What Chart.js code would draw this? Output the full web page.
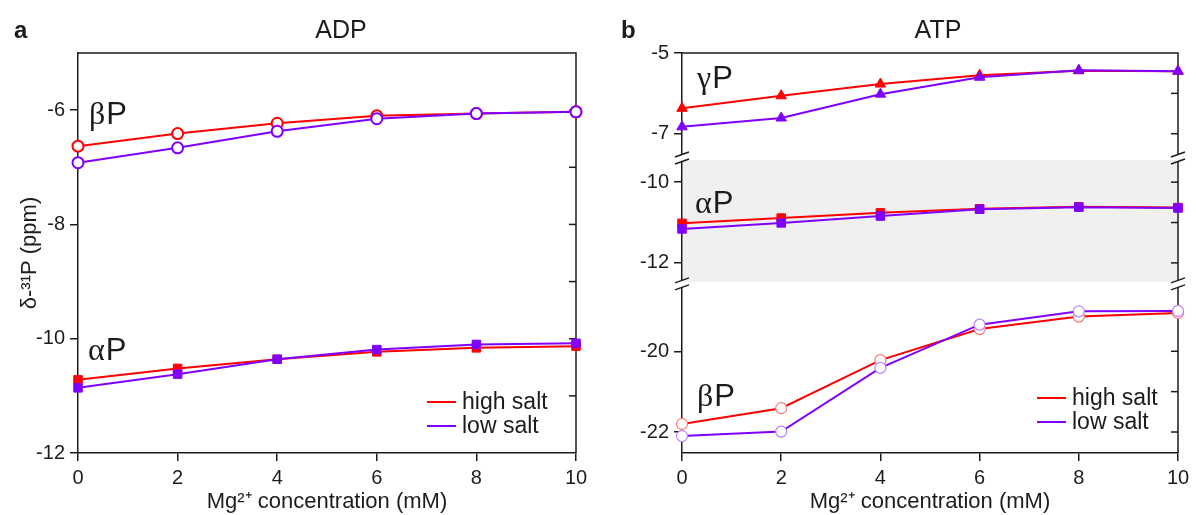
<!DOCTYPE html>
<html>
<head>
<meta charset="utf-8">
<script src="https://cdn.jsdelivr.net/npm/chart.js@4.4.0/dist/chart.umd.min.js"></script>
<style>
    html, body { margin: 0; padding: 0; background: #fff; }
    #wrap { position: relative; width: 1196px; height: 515px; overflow: hidden; }
    canvas { position: absolute; top: 0; }
    #adpChart { left: 0; }
    #atpChart { left: 600px; }
</style>
</head>
<body>
<div id="wrap">
    <canvas id="adpChart" width="600" height="515"></canvas>
    <canvas id="atpChart" width="596" height="515"></canvas>
</div>
<script>
// Mg2+ concentration (mM)
const mgConc = [0, 2, 4, 6, 8, 10];
const xTicks = [0, 2, 4, 6, 8, 10];

// a: ADP shifts (ppm)
const adpBetaHigh = [-6.63, -6.41, -6.23, -6.10, -6.06, -6.03];
const adpBetaLow = [-6.92, -6.66, -6.37, -6.15, -6.06, -6.03];
const adpAlphaHigh = [-10.72, -10.52, -10.36, -10.23, -10.16, -10.13];
const adpAlphaLow = [-10.86, -10.62, -10.36, -10.19, -10.10, -10.08];
const adpTicks = [-6, -8, -10, -12];
const adpMinor = [-6, -7, -8, -9, -10, -11];

// b: ATP shifts (ppm), broken axis in three pieces
const atpGammaHigh = [-6.37, -6.06, -5.77, -5.55, -5.44, -5.45];
const atpGammaLow = [-6.83, -6.61, -6.02, -5.60, -5.43, -5.45];
const atpAlphaHigh = [-11.02, -10.89, -10.76, -10.66, -10.61, -10.63];
const atpAlphaLow = [-11.16, -11.01, -10.84, -10.67, -10.62, -10.64];
const atpBetaHigh = [-21.80, -21.41, -20.22, -19.45, -19.14, -19.05];
const atpBetaLow = [-22.10, -21.99, -20.41, -19.34, -19.01, -19.00];
const atpTopTicks = [-5, -7];
const atpMidTicks = [-10, -12];
const atpBotTicks = [-20, -22];
const atpTopMinor = [-6, -7];
const atpMidMinor = [-10, -11, -12];
const atpBotMinor = [-19, -20, -21, -22];

const seriesNames = ["high salt", "low salt"];

const RED = "#ff0000";
const PURPLE = "#8000ff";
const RED_LIGHT = "#ff7a7a";
const PURPLE_LIGHT = "#b784ff";
const INK = "#1c1c1c";
const FONT = "'Liberation Sans', Arial, sans-serif";
const GREEK = "'Liberation Serif', 'DejaVu Serif', serif";

function toPoints(values) {
    return mgConc.map(function (x, i) {
        return { x: x, y: values[i] };
    });
}

// low salt (purple) is drawn over high salt (red)
function series(label, values, color, shape, extra) {
    return Object.assign({
        label: label,
        data: toPoints(values),
        borderColor: color,
        backgroundColor: color,
        borderWidth: 2,
        pointStyle: shape,
        pointRadius: 5,
        pointBackgroundColor: color,
        pointBorderColor: color,
        pointBorderWidth: 1,
        tension: 0,
        clip: false,
        order: label == seriesNames[0] ? 1 : 0,
    }, extra || {});
}

function openCircle(label, values, color, edge, yAxisID, width) {
    return series(label, values, color, "circle", {
        yAxisID: yAxisID,
        pointRadius: 5.5,
        pointBackgroundColor: "#ffffff",
        pointBorderColor: edge,
        pointBorderWidth: width,
    });
}

const axisGrid = {
    drawOnChartArea: false,
    drawTicks: true,
    tickLength: 8,
    color: INK,
    lineWidth: 1.5,
};
const axisBorder = { display: true, color: INK, width: 1.5 };
const tickFont = { family: FONT, size: 20 };

function xScale() {
    return {
        type: "linear",
        min: 0,
        max: 10,
        afterFit: function (s) { s.height = 62; },
        afterBuildTicks: function (s) {
            s.ticks = xTicks.map(function (v) { return { value: v }; });
        },
        grid: axisGrid,
        border: axisBorder,
        ticks: { color: INK, font: tickFont, padding: 5, maxRotation: 0 },
        title: {
            display: true,
            text: "Mg²⁺ concentration (mM)",
            color: INK,
            font: { family: FONT, size: 22 },
            padding: { top: 0, bottom: 0 },
        },
    };
}

function yScale(min, max, labels, width, extra) {
    return Object.assign({
        type: "linear",
        axis: "y",
        position: "left",
        min: min,
        max: max,
        afterFit: function (s) { s.width = width; },
        afterBuildTicks: function (s) {
            s.ticks = labels.map(function (v) { return { value: v }; });
        },
        grid: axisGrid,
        border: axisBorder,
        ticks: { color: INK, font: tickFont, padding: 5 },
    }, extra || {});
}

function line(ctx, x1, y1, x2, y2) {
    ctx.beginPath();
    ctx.moveTo(x1, y1);
    ctx.lineTo(x2, y2);
    ctx.stroke();
}

function greekLabel(ctx, greek, x, y) {
    ctx.fillStyle = INK;
    ctx.textBaseline = "alphabetic";
    ctx.textAlign = "left";
    ctx.font = "32px " + GREEK;
    ctx.fillText(greek, x, y);
    const w = ctx.measureText(greek).width;
    ctx.font = "31px " + FONT;
    ctx.fillText("P", x + w + 1, y);
}

// frame, inward ticks, broken axis, labels and legend
function decorPlugin(cfg) {
    return {
        id: "decor",
        beforeDatasetsDraw: function (chart) {
            const ctx = chart.ctx;
            const a = chart.chartArea;
            ctx.save();
            if (cfg.band) {
                const s = chart.scales[cfg.band];
                ctx.fillStyle = "#f0f0f0";
                ctx.fillRect(a.left + 1, s.top + 2, a.right - a.left - 2, s.bottom - s.top - 4);
            }
            ctx.strokeStyle = INK;
            ctx.lineWidth = 1.5;
            ctx.beginPath();
            ctx.moveTo(a.left, a.top);
            ctx.lineTo(a.right, a.top);
            ctx.lineTo(a.right, a.bottom);
            ctx.stroke();
            cfg.minor.forEach(function (m) {
                const s = chart.scales[m[0]];
                m[1].forEach(function (v) {
                    const y = s.getPixelForValue(v);
                    line(ctx, a.right - 7, y, a.right, y);
                });
            });
            (cfg.breaks || []).forEach(function (id) {
                const y = chart.scales[id].bottom;
                [a.left, a.right].forEach(function (x) {
                    ctx.fillStyle = "#ffffff";
                    ctx.fillRect(x - 2, y - 3, 4, 6);
                    ctx.lineWidth = 1.5;
                    line(ctx, x - 7, y - 1, x + 7, y - 6);
                    line(ctx, x - 7, y + 6, x + 7, y + 1);
                });
            });
            ctx.restore();
        },
        afterDraw: function (chart) {
            const ctx = chart.ctx;
            ctx.save();
            // panel letter and title
            ctx.fillStyle = INK;
            ctx.textBaseline = "middle";
            ctx.textAlign = "left";
            ctx.font = "bold 24px " + FONT;
            ctx.fillText(cfg.letter, cfg.letterX, 31);
            ctx.textAlign = "center";
            ctx.font = "25px " + FONT;
            ctx.fillText(cfg.title, cfg.titleX, 31);
            cfg.greek.forEach(function (g) {
                greekLabel(ctx, g[0], g[1], g[2]);
            });
            // legend
            const lg = cfg.legend;
            [RED, PURPLE].forEach(function (c, i) {
                const y = lg.y + i * 24;
                ctx.strokeStyle = c;
                ctx.lineWidth = 2;
                line(ctx, lg.x, y, lg.x + 29, y);
                ctx.fillStyle = INK;
                ctx.textAlign = "left";
                ctx.textBaseline = "middle";
                ctx.font = "23px " + FONT;
                ctx.fillText(seriesNames[i], lg.x + 35, y + 1);
            });
            ctx.restore();
        },
    };
}

const baseOptions = {
    responsive: false,
    animation: false,
    events: [],
    plugins: { legend: { display: false }, tooltip: { enabled: false } },
};

// ---- a: ADP ----
const adpChart = new Chart(document.getElementById("adpChart"), {
    type: "line",
    data: {
        datasets: [
            openCircle(seriesNames[0], adpBetaHigh, RED, RED, "y", 2),
            openCircle(seriesNames[1], adpBetaLow, PURPLE, PURPLE, "y", 2),
            series(seriesNames[0], adpAlphaHigh, RED, "rect", { pointRadius: 6 }),
            series(seriesNames[1], adpAlphaLow, PURPLE, "rect", { pointRadius: 6 }),
        ],
    },
    options: Object.assign({}, baseOptions, {
        layout: { padding: { top: 53, right: 24, bottom: 0, left: 0 } },
        scales: {
            x: xScale(),
            y: yScale(-12, -5, adpTicks, 78, {
                title: {
                    display: true,
                    text: "δ-³¹P (ppm)",
                    color: INK,
                    font: { family: FONT, size: 22 },
                    padding: { top: 17, bottom: 0 },
                },
            }),
        },
    }),
    plugins: [decorPlugin({
        letter: "a", letterX: 14, title: "ADP", titleX: 341,
        minor: [["y", adpMinor]],
        greek: [["β", 89, 124], ["α", 88, 360]],
        legend: { x: 427, y: 402 },
    })],
});

// ---- b: ATP (three stacked y pieces, later ones sit higher) ----
const atpChart = new Chart(document.getElementById("atpChart"), {
    type: "line",
    data: {
        datasets: [
            series(seriesNames[0], atpGammaHigh, RED, "triangle", { yAxisID: "yTop", pointRadius: 6 }),
            series(seriesNames[1], atpGammaLow, PURPLE, "triangle", { yAxisID: "yTop", pointRadius: 6 }),
            series(seriesNames[0], atpAlphaHigh, RED, "rect", { yAxisID: "yMid", pointRadius: 6 }),
            series(seriesNames[1], atpAlphaLow, PURPLE, "rect", { yAxisID: "yMid", pointRadius: 6 }),
            openCircle(seriesNames[0], atpBetaHigh, RED, RED_LIGHT, "yBot", 1.2),
            openCircle(seriesNames[1], atpBetaLow, PURPLE, PURPLE_LIGHT, "yBot", 1.2),
        ],
    },
    options: Object.assign({}, baseOptions, {
        layout: { padding: { top: 53, right: 18, bottom: 0, left: 0 } },
        scales: {
            x: xScale(),
            yBot: yScale(-22.52, -18.33, atpBotTicks, 82, { stack: "atp", stackWeight: 4.19 }),
            yMid: yScale(-12.52, -9.40, atpMidTicks, 82, { stack: "atp", stackWeight: 3.12 }),
            yTop: yScale(-7.6, -5, atpTopTicks, 82, { stack: "atp", stackWeight: 2.6 }),
        },
    }),
    plugins: [decorPlugin({
        letter: "b", letterX: 21, title: "ATP", titleX: 338,
        band: "yMid",
        breaks: ["yTop", "yMid"],
        minor: [["yTop", atpTopMinor], ["yMid", atpMidMinor], ["yBot", atpBotMinor]],
        greek: [["γ", 97, 88], ["α", 95, 213], ["β", 97, 406]],
        legend: { x: 437, y: 398 },
    })],
});
</script>
</body>
</html>
